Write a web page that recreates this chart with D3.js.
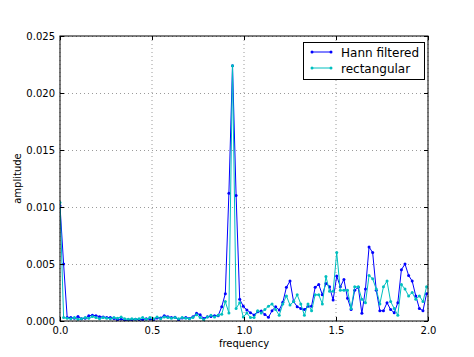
<!DOCTYPE html>
<html>
<head>
<meta charset="utf-8">
<script src="https://cdn.jsdelivr.net/npm/d3@7"></script>
<style>
  html, body { margin: 0; padding: 0; background: #fff; }
  text { font-family: "DejaVu Sans", sans-serif; }
</style>
</head>
<body>
<svg id="chart" width="474" height="357"></svg>
<script>
// frequency resolution (bin spacing) and series
const freqStep = 10 / 512;
const hannValues = [
  0.0101, 0.0050, 0.0003, 0.0003, 0.00025, 0.0004, 0.0002, 0.00025, 0.00045, 0.0005,
  0.00047, 0.00038, 0.00035, 0.0003, 0.0003, 0.00023, 0.0001, 0.00018, 0.00005, 0.00008,
  0.0001, 0.00015, 0.00012, 0.00012, 0.0002, 0.00018, 0.00008, 0.00027, 0.00027, 0.00047,
  0.00038, 0.0003, 0.00032, 0.0001, 0.00027, 0.0003, 0.00023, 0.00038, 0.00067, 0.00055,
  0.00023, 0.00038, 0.0004, 0.00047, 0.00047, 0.00125, 0.0024, 0.0112, 0.0224, 0.0110,
  0.0019, 0.0013, 0.00096, 0.00073, 0.00053, 0.00082, 0.00088, 0.00058, 0.00032, 0.0009,
  0.00126, 0.00096, 0.00164, 0.00295, 0.0035, 0.0017, 0.00126, 0.0011, 0.001, 0.0013,
  0.0013, 0.00295, 0.0032, 0.0023, 0.0033, 0.003, 0.00184, 0.00395, 0.003, 0.00365,
  0.002, 0.001, 0.0027, 0.00295, 0.00067, 0.0028, 0.0065, 0.006, 0.0027, 0.0009,
  0.0009, 0.0016, 0.001, 0.00073, 0.0016, 0.0045, 0.005, 0.004, 0.0035, 0.0022,
  0.0011, 0.0009, 0.0024
];
const rectValues = [
  0.0104, 0.0003, 0.00025, 0.0002, 0.0003, 0.00015, 0.0002, 0.0003, 0.00025, 0.0004,
  0.0003, 0.0002, 0.0003, 0.00025, 0.0002, 0.0003, 0.00025, 0.00035, 0.0002, 0.00015,
  0.0002, 0.00015, 0.0002, 0.0003, 0.00015, 0.0003, 0.0002, 0.00035, 0.0002, 0.00035,
  0.0003, 0.00025, 0.0003, 0.0002, 0.0003, 0.00025, 0.0002, 0.0003, 0.00055, 0.0003,
  0.0001, 0.00035, 0.0005, 0.00035, 0.0005, 0.0006, 0.0017, 0.0007, 0.0224, 0.0011,
  0.0016, 0.00035, 0.0007, 0.0003, 0.0003, 0.0009, 0.0007, 0.001, 0.0013, 0.0015,
  0.001, 0.0005, 0.0015, 0.0022, 0.0014, 0.0017, 0.0023, 0.0015, 0.0005, 0.0015,
  0.0009, 0.0023, 0.0023, 0.0015, 0.0039, 0.0026, 0.0026, 0.0060, 0.0027, 0.0027,
  0.0027, 0.0011, 0.0030, 0.0030, 0.0019, 0.0016, 0.0040, 0.0037, 0.0028, 0.0015,
  0.0030, 0.0035, 0.0017, 0.0011, 0.0005, 0.0032, 0.0028, 0.0022, 0.0025, 0.0019,
  0.0022, 0.0017, 0.0030
];
const seriesNames = ["Hann filtered", "rectangular"];
const seriesColors = ["#0000ff", "#00bfbf"];
const xTicks = [0.0, 0.5, 1.0, 1.5, 2.0];
const yTicks = [0.000, 0.005, 0.010, 0.015, 0.020, 0.025];

const svg = d3.select("#chart");
const m = { left: 60, right: 46, top: 36, bottom: 36 };
const W = 474, H = 357;
const x = d3.scaleLinear().domain([0, 2]).range([m.left, W - m.right]);
const y = d3.scaleLinear().domain([0, 0.025]).range([H - m.bottom, m.top]);

svg.append("rect").attr("width", W).attr("height", H).attr("fill", "#fff");

// clip
svg.append("defs").append("clipPath").attr("id", "clip")
  .append("rect").attr("x", m.left).attr("y", m.top)
  .attr("width", x.range()[1] - m.left).attr("height", y.range()[0] - m.top);

// grid
const grid = svg.append("g");
xTicks.forEach(t => {
  grid.append("line").attr("x1", x(t)).attr("x2", x(t)).attr("y1", y(0)).attr("y2", y(0.025))
    .attr("stroke", "#9a9a9a").attr("stroke-width", 1).attr("stroke-dasharray", "1,3");
});
yTicks.forEach(t => {
  grid.append("line").attr("x1", x(0)).attr("x2", x(2)).attr("y1", Math.round(y(t)) + 0.5).attr("y2", Math.round(y(t)) + 0.5)
    .attr("stroke", "#9a9a9a").attr("stroke-width", 1).attr("stroke-dasharray", "1,3");
});

// series
const seriesList = [hannValues, rectValues];
const plot = svg.append("g").attr("clip-path", "url(#clip)");
seriesList.forEach((vals, k) => {
  const pts = vals.map((v, i) => [i * freqStep, v]);
  plot.append("path").datum(pts)
    .attr("fill", "none").attr("stroke", seriesColors[k]).attr("stroke-width", 1)
    .attr("d", d3.line().x(d => x(d[0])).y(d => y(d[1])));
  plot.selectAll(null).data(pts).enter().append("circle")
    .attr("cx", d => x(d[0])).attr("cy", d => y(d[1])).attr("r", 1.5)
    .attr("fill", seriesColors[k]);
});

// axes (ticks inside, on all four sides)
const tl = 4;
const xAxisB = d3.axisBottom(x).tickValues(xTicks).tickFormat(d3.format(".1f")).tickSizeInner(-tl).tickSizeOuter(0).tickPadding(6);
const xAxisT = d3.axisTop(x).tickValues(xTicks).tickFormat("").tickSizeInner(-tl).tickSizeOuter(0);
const yAxisL = d3.axisLeft(y).tickValues(yTicks).tickFormat(d3.format(".3f")).tickSizeInner(-tl).tickSizeOuter(0).tickPadding(5);
const yAxisR = d3.axisRight(y).tickValues(yTicks).tickFormat("").tickSizeInner(-tl).tickSizeOuter(0);

function styleAxis(g) {
  g.select(".domain").remove();
  g.selectAll("line").attr("stroke", "#000");
  g.selectAll("text").attr("font-size", 10).attr("fill", "#000").attr("font-family", "DejaVu Sans, sans-serif");
}
svg.append("g").attr("transform", `translate(0,${y(0)})`).call(xAxisB).call(styleAxis);
svg.append("g").attr("transform", `translate(0,${y(0.025)})`).call(xAxisT).call(styleAxis);
svg.append("g").attr("transform", `translate(${x(0)},0)`).call(yAxisL).call(styleAxis);
svg.append("g").attr("transform", `translate(${x(2)},0)`).call(yAxisR).call(styleAxis);

// frame
svg.append("rect").attr("x", x(0)).attr("y", y(0.025))
  .attr("width", x(2) - x(0)).attr("height", y(0) - y(0.025))
  .attr("fill", "none").attr("stroke", "#000").attr("stroke-width", 1);

// labels
svg.append("text").attr("x", (x(0) + x(2)) / 2).attr("y", 347).attr("text-anchor", "middle")
  .attr("font-size", 10).text("frequency");
svg.append("text").attr("transform", `translate(21,${(y(0) + y(0.025)) / 2}) rotate(-90)`)
  .attr("text-anchor", "middle").attr("font-size", 10).text("amplitude");

// legend
const lg = svg.append("g");
lg.append("rect").attr("x", 303.5).attr("y", 42.5).attr("width", 121).attr("height", 37)
  .attr("fill", "#fff").attr("stroke", "#000").attr("stroke-width", 1);
seriesNames.forEach((name, k) => {
  const ly = 52 + k * 16;
  lg.append("line").attr("x1", 312).attr("x2", 331).attr("y1", ly).attr("y2", ly)
    .attr("stroke", seriesColors[k]).attr("stroke-width", 1);
  [312, 331].forEach(cx => lg.append("circle").attr("cx", cx).attr("cy", ly).attr("r", 1.5).attr("fill", seriesColors[k]));
  lg.append("text").attr("x", 341).attr("y", ly + 4.5).attr("font-size", 12).text(name);
});
</script>
</body>
</html>
